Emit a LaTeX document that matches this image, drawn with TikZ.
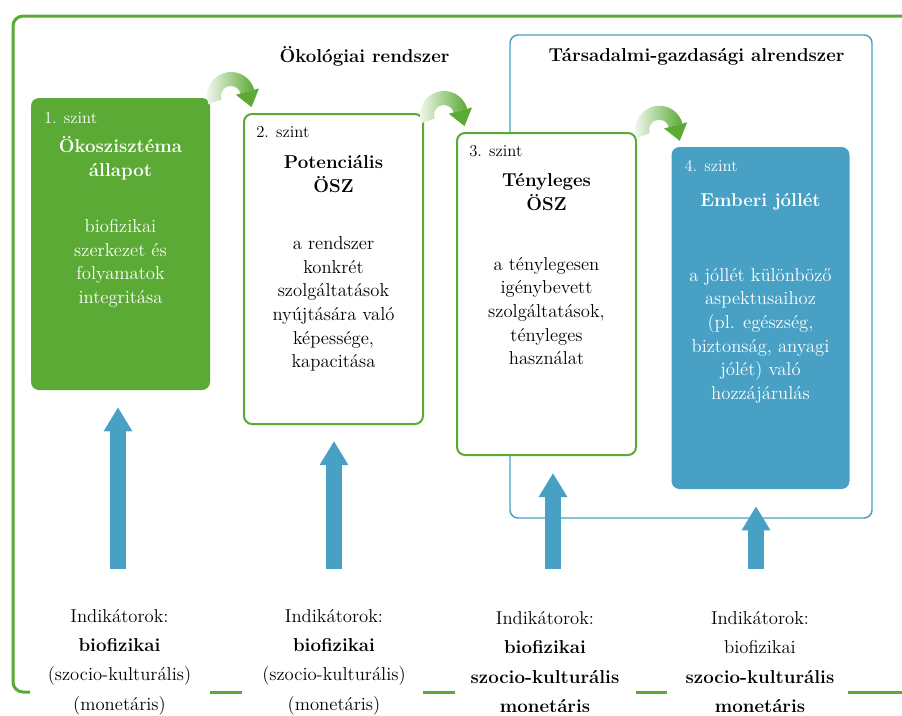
\documentclass[tikz,border=0pt]{standalone}
\usepackage{fontspec}
\usepackage{tikz}
\usetikzlibrary{calc}
\usetikzlibrary{arrows.meta}
\usetikzlibrary{positioning}

\definecolor{ecogreen}{RGB}{91,170,53}
\definecolor{socblue}{RGB}{72,161,196}

\begin{document}
\begin{tikzpicture}[x=0.75pt,y=-0.75pt,
    level/.style={rectangle,rounded corners=6pt,minimum width=134.25pt,inner sep=0pt},
    ecofull/.style={level,fill=ecogreen},
    ecoline/.style={level,draw=ecogreen,line width=1.5pt,fill=white},
    socfull/.style={level,fill=socblue},
    szint/.style={anchor=west,inner sep=0pt,font=\fontsize{12.5}{14}\selectfont},
    lvltitle/.style={align=center,inner sep=0pt,font=\fontsize{14}{18}\selectfont\bfseries},
    lvlbody/.style={align=center,inner sep=0pt,font=\fontsize{14}{17.7}\selectfont},
    indic/.style={align=center,inner sep=0pt,font=\fontsize{14}{22}\selectfont},
    header/.style={inner sep=0pt,font=\fontsize{14}{17}\selectfont\bfseries},
    uparrow/.style={socblue,line width=12pt,-{Triangle[width=20.25pt,length=18pt]}},
    turn/.style={left color=ecogreen!4,middle color=ecogreen!80,right color=ecogreen}]
    \useasboundingbox (0,0) rectangle (902,715);

    % outer frame
    \draw[ecogreen,line width=2.25pt,rounded corners=7.5pt] (902,16) -- (13,16) -- (13,692) -- (30,692);
    \foreach \a/\b in {210/242,423/455,636/667,848/902}
        \draw[ecogreen,line width=2.25pt] (\a,692) -- (\b,692);

    % subsystem frame
    \draw[socblue,line width=1.1pt,rounded corners=6pt] (510,35) rectangle (872,518);

    \node[header] (eco) at (364.5,56) {Ökológiai rendszer};
    \node[header] (soc) at (696.5,57) {Társadalmi-gazdasági alrendszer};

    % levels
    \node[ecofull,minimum height=219pt] (s1) at (120.5,244) {};
    \node[ecoline,minimum height=232.5pt] (s2) at (333.5,269) {};
    \node[ecoline,minimum height=241.5pt] (s3) at (546.5,294) {};
    \node[socfull,minimum width=133.5pt,minimum height=256.5pt] (s4) at (760.5,318) {};

    \node[szint,white] (n1) at ($(s1.north west)+(13,20)$) {1. szint};
    \node[szint] (n2) at ($(s2.north west)+(13,19)$) {2. szint};
    \node[szint] (n3) at ($(s3.north west)+(13,19)$) {3. szint};
    \node[szint,white] (n4) at ($(s4.north west)+(13,19)$) {4. szint};

    \node[lvltitle,white] (t1) at ($(s1.north)+(0,61)$) {Ökoszisztéma\\állapot};
    \node[lvltitle] (t2) at ($(s2.north)+(0,61.5)$) {Potenciális\\ÖSZ};
    \node[lvltitle] (t3) at ($(s3.north)+(0,60)$) {Tényleges\\ÖSZ};
    \node[lvltitle,white] (t4) at ($(s4.north)+(0,55)$) {Emberi jóllét};

    \node[lvlbody,white] (d1) at ($(s1.north)+(0,165.5)$) {biofizikai\\szerkezet és\\folyamatok\\integritása};
    \node[lvlbody] (d2) at ($(s2.north)+(0,191)$) {a rendszer\\konkrét\\szolgáltatások\\nyújtására való\\képessége,\\kapacitása};
    \node[lvlbody] (d3) at ($(s3.north)+(0,179)$) {a ténylegesen\\igénybevett\\szolgáltatások,\\tényleges\\használat};
    \node[lvlbody,white] (d4) at ($(s4.north)+(0,189)$) {a jóllét különböző\\aspektusaihoz\\(pl. egészség,\\biztonság, anyagi\\jólét) való\\hozzájárulás};

    % indicators
    \node[indic] (i1) at (119.5,662) {Indikátorok:\\\textbf{biofizikai}\\(szocio-kulturális)\\(monetáris)};
    \node[indic] (i2) at (334,662) {Indikátorok:\\\textbf{biofizikai}\\(szocio-kulturális)\\(monetáris)};
    \node[indic] (i3) at (545,662) {Indikátorok:\\\textbf{biofizikai}\\\textbf{szocio-kulturális}\\\textbf{monetáris}};
    \node[indic] (i4) at (760,662) {Indikátorok:\\biofizikai\\\textbf{szocio-kulturális}\\\textbf{monetáris}};

    \coordinate (b1) at (118,569);
    \coordinate (b2) at (334,569);
    \coordinate (b3) at (553,569);
    \coordinate (b4) at (756,569);
    \draw[uparrow] (b1) -- ($(b1 |- s1.south)+(0,17)$);
    \draw[uparrow] (b2) -- ($(b2 |- s2.south)+(0,16)$);
    \draw[uparrow] (b3) -- ($(b3 |- s3.south)+(0,17)$);
    \draw[uparrow] (b4) -- ($(b4 |- s4.south)+(0,17)$);

    % turning arrows between levels
    \foreach \s in {s2,s3,s4} {
        \coordinate (ctr) at ($(\s.north west)+(-12,-17)$);
        \shade[turn] ($(ctr)+(160:24)$) arc[start angle=160,end angle=345,radius=24]
            -- ($(ctr)+(345:10)$) arc[start angle=345,end angle=160,radius=10] -- cycle;
        \fill[ecogreen] ($(ctr)+(28,-7.5)$) -- ($(ctr)+(20.5,11.1)$) -- ($(ctr)+(4.8,-1.3)$) -- cycle;
    }
\end{tikzpicture}
\end{document}
